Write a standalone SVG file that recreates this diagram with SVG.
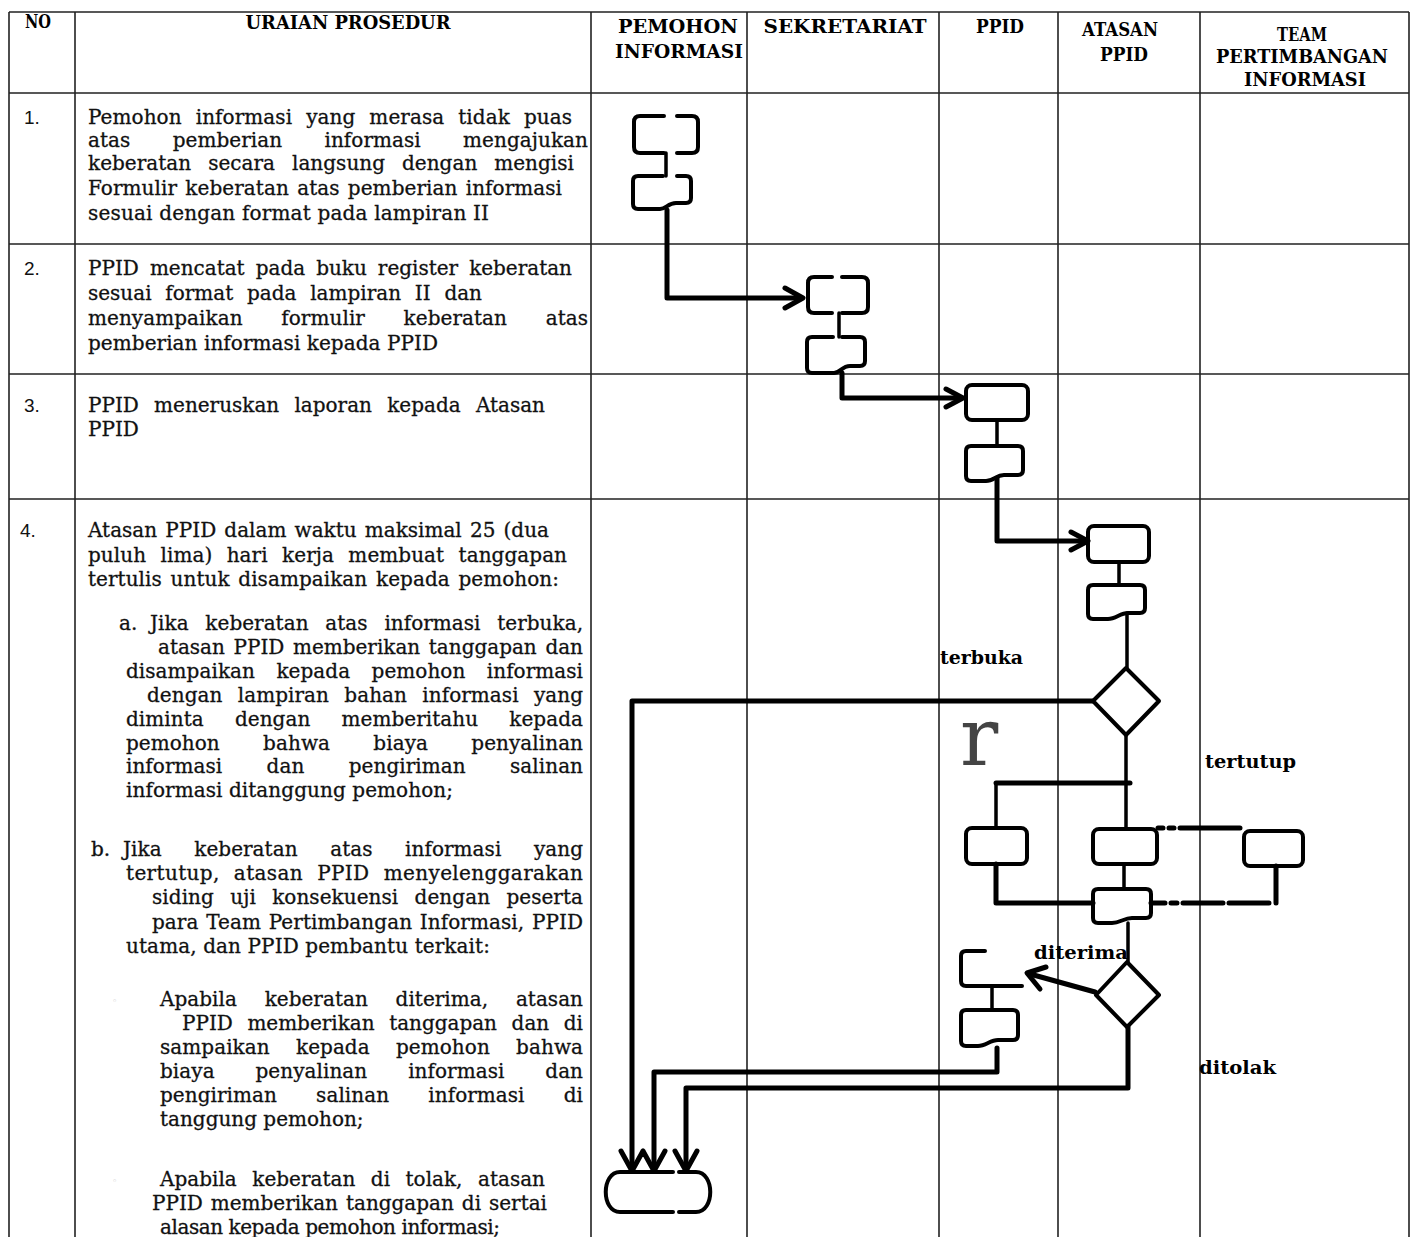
<svg xmlns="http://www.w3.org/2000/svg" width="1414" height="1237" viewBox="0 0 1414 1237">
<style>
.grid{stroke:#222;stroke-width:1.6;fill:none}
.box{fill:none;stroke:#000;stroke-width:4;stroke-linejoin:round;stroke-linecap:round}
.conn{fill:none;stroke:#000;stroke-width:3.5;stroke-linecap:round}
.flow{fill:none;stroke:#000;stroke-width:5;stroke-linejoin:round;stroke-linecap:round}
.head{fill:none;stroke:#000;stroke-width:5;stroke-linejoin:round;stroke-linecap:round}
.hdr{font-family:"DejaVu Serif","Liberation Serif",serif;font-weight:bold;font-size:18px;fill:#000;text-anchor:middle}
.t{font-family:"DejaVu Serif","Liberation Serif",serif;font-size:20px;fill:#111;stroke:#111;stroke-width:0.3}
.num{font-family:"Liberation Sans",Arial,sans-serif;font-size:19px;fill:#111}
.lbl{font-family:"DejaVu Serif","Liberation Serif",serif;font-weight:bold;font-size:18px;fill:#000}
</style>
<rect width="1414" height="1237" fill="#fff"/>
<g id="table">
<path class="grid" d="M9,12 H1409 M9,93 H1409 M9,244 H1409 M9,374 H1409 M9,499 H1409"/>
<path class="grid" d="M9,12 V1237 M75,12 V1237 M591,12 V1237 M747,12 V1237 M939,12 V1237 M1058,12 V1237 M1200,12 V1237 M1409,12 V1237"/>
</g>
<g id="header">
<text class="hdr" x="38" y="28" textLength="26" lengthAdjust="spacingAndGlyphs">NO</text>
<text class="hdr" x="348" y="29" textLength="205" lengthAdjust="spacingAndGlyphs">URAIAN PROSEDUR</text>
<text class="hdr" x="678" y="33" textLength="120" lengthAdjust="spacingAndGlyphs">PEMOHON</text>
<text class="hdr" x="679" y="58" textLength="128" lengthAdjust="spacingAndGlyphs">INFORMASI</text>
<text class="hdr" x="845" y="33" textLength="163" lengthAdjust="spacingAndGlyphs">SEKRETARIAT</text>
<text class="hdr" x="1000" y="33" textLength="48" lengthAdjust="spacingAndGlyphs">PPID</text>
<text class="hdr" x="1120" y="36" textLength="76" lengthAdjust="spacingAndGlyphs">ATASAN</text>
<text class="hdr" x="1124" y="61" textLength="48" lengthAdjust="spacingAndGlyphs">PPID</text>
<text class="hdr" x="1302" y="41" textLength="50" lengthAdjust="spacingAndGlyphs">TEAM</text>
<text class="hdr" x="1302" y="63" textLength="172" lengthAdjust="spacingAndGlyphs">PERTIMBANGAN</text>
<text class="hdr" x="1305" y="86" textLength="122" lengthAdjust="spacingAndGlyphs">INFORMASI</text>
</g>
<g id="row1-text">
<text class="num" x="24" y="124">1.</text>
<text class="t" x="88" y="124" word-spacing="7.6" textLength="484" lengthAdjust="spacing">Pemohon informasi yang merasa tidak puas</text>
<text class="t" x="88" y="147" word-spacing="35.8" textLength="500" lengthAdjust="spacing">atas pemberian informasi mengajukan</text>
<text class="t" x="88" y="170" word-spacing="10.5" textLength="486" lengthAdjust="spacing">keberatan secara langsung dengan mengisi</text>
<text class="t" x="88" y="195" word-spacing="1.9" textLength="474" lengthAdjust="spacing">Formulir keberatan atas pemberian informasi</text>
<text class="t" x="88" y="220" textLength="401" lengthAdjust="spacing">sesuai dengan format pada lampiran II</text>
</g>
<g id="row2-text">
<text class="num" x="24" y="275">2.</text>
<text class="t" x="88" y="275" word-spacing="4.7" textLength="484" lengthAdjust="spacing">PPID mencatat pada buku register keberatan</text>
<text class="t" x="88" y="300" word-spacing="7.4" textLength="394" lengthAdjust="spacing">sesuai format pada lampiran II dan</text>
<text class="t" x="88" y="325" word-spacing="32.2" textLength="500" lengthAdjust="spacing">menyampaikan formulir keberatan atas</text>
<text class="t" x="88" y="350" textLength="350" lengthAdjust="spacing">pemberian informasi kepada PPID</text>
</g>
<g id="row3-text">
<text class="num" x="24" y="412">3.</text>
<text class="t" x="88" y="412" word-spacing="8.9" textLength="457" lengthAdjust="spacing">PPID meneruskan laporan kepada Atasan</text>
<text class="t" x="88" y="436">PPID</text>
</g>
<g id="row4-text">
<text class="num" x="20" y="537">4.</text>
<text class="t" x="88" y="537" word-spacing="1.8" textLength="461" lengthAdjust="spacing">Atasan PPID dalam waktu maksimal 25 (dua</text>
<text class="t" x="88" y="562" word-spacing="8" textLength="479" lengthAdjust="spacing">puluh lima) hari kerja membuat tanggapan</text>
<text class="t" x="88" y="586" word-spacing="2.3" textLength="471" lengthAdjust="spacing">tertulis untuk disampaikan kepada pemohon:</text>
<text class="t" x="119" y="630">a.</text>
<text class="t" x="150" y="630" word-spacing="10.4" textLength="433" lengthAdjust="spacing">Jika keberatan atas informasi terbuka,</text>
<text class="t" x="158" y="654" word-spacing="2.3" textLength="425" lengthAdjust="spacing">atasan PPID memberikan tanggapan dan</text>
<text class="t" x="126" y="678" word-spacing="15" textLength="457" lengthAdjust="spacing">disampaikan kepada pemohon informasi</text>
<text class="t" x="147" y="702" word-spacing="8.9" textLength="436" lengthAdjust="spacing">dengan lampiran bahan informasi yang</text>
<text class="t" x="126" y="726" word-spacing="24.7" textLength="457" lengthAdjust="spacing">diminta dengan memberitahu kepada</text>
<text class="t" x="126" y="750" word-spacing="36.9" textLength="457" lengthAdjust="spacing">pemohon bahwa biaya penyalinan</text>
<text class="t" x="126" y="773" word-spacing="38" textLength="457" lengthAdjust="spacing">informasi dan pengiriman salinan</text>
<text class="t" x="126" y="797" textLength="327" lengthAdjust="spacing">informasi ditanggung pemohon;</text>
<text class="t" x="91" y="856">b.</text>
<text class="t" x="123" y="856" word-spacing="26.2" textLength="460" lengthAdjust="spacing">Jika keberatan atas informasi yang</text>
<text class="t" x="126" y="880" word-spacing="7.5" textLength="457" lengthAdjust="spacing">tertutup, atasan PPID menyelenggarakan</text>
<text class="t" x="152" y="904" word-spacing="9.9" textLength="431" lengthAdjust="spacing">siding uji konsekuensi dengan peserta</text>
<text class="t" x="152" y="929" word-spacing="1.3" textLength="431" lengthAdjust="spacing">para Team Pertimbangan Informasi, PPID</text>
<text class="t" x="126" y="953" textLength="364" lengthAdjust="spacing">utama, dan PPID pembantu terkait:</text>
<text x="112" y="1004" font-family="DejaVu Sans,sans-serif" font-size="9" fill="#bbb">◦</text>
<text class="t" x="160" y="1006" word-spacing="21.4" textLength="423" lengthAdjust="spacing">Apabila keberatan diterima, atasan</text>
<text class="t" x="182" y="1030" word-spacing="8.3" textLength="401" lengthAdjust="spacing">PPID memberikan tanggapan dan di</text>
<text class="t" x="160" y="1054" word-spacing="19.9" textLength="423" lengthAdjust="spacing">sampaikan kepada pemohon bahwa</text>
<text class="t" x="160" y="1078" word-spacing="34.5" textLength="423" lengthAdjust="spacing">biaya penyalinan informasi dan</text>
<text class="t" x="160" y="1102" word-spacing="32.8" textLength="423" lengthAdjust="spacing">pengiriman salinan informasi di</text>
<text class="t" x="160" y="1126">tanggung pemohon;</text>
<text x="112" y="1184" font-family="DejaVu Sans,sans-serif" font-size="9" fill="#bbb">◦</text>
<text class="t" x="160" y="1186" word-spacing="9.1" textLength="385" lengthAdjust="spacing">Apabila keberatan di tolak, atasan</text>
<text class="t" x="152" y="1210" word-spacing="1.7" textLength="395" lengthAdjust="spacing">PPID memberikan tanggapan di sertai</text>
<text class="t" x="160" y="1234" textLength="340" lengthAdjust="spacing">alasan kepada pemohon informasi;</text>
</g>
<g id="connectors">
<path class="conn" d="M666,153 V176 M839,313 V337 M997,420 V446 M1119,562 V585 M1127,613 V668 M1126,735 V783 M996,783 V828 M1126,783 V829 M1124,864 V889 M1128,923 V962 M992,986 V1010"/>
<path class="flow" d="M667,210 V298 H800"/>
<path class="head" d="M785,288 L803,298 L785,308"/>
<path class="flow" d="M842,373 V398 H960"/>
<path class="head" d="M946,389 L963,398 L946,407"/>
<path class="flow" d="M997,478 V541 H1085"/>
<path class="head" d="M1071,532 L1088,541 L1071,550"/>
<path class="flow" d="M1093,701 H632 V1168"/>
<path class="flow" d="M996,783 H1130"/>
<path class="flow" d="M1158,828 H1240" stroke-dasharray="5 6 5 6 60" stroke-linecap="butt"/>
<path class="flow" d="M996,864 V903 H1093"/>
<path class="flow" d="M1151,903 H1276" stroke-dasharray="14 6 6 6 40 6 40" stroke-linecap="butt"/>
<path class="flow" d="M1276,903 V866"/>
<path class="flow" d="M1095,992 L1030,974"/>
<path class="head" d="M1040,989 L1027,973 L1046,967"/>
<path class="flow" d="M997,1048 V1072 H654 V1168"/>
<path class="flow" d="M1128,1027 V1088 H686 V1168"/>
<path class="head" d="M621,1151 L632,1171 L643,1151 M643,1151 L654,1171 L665,1151 M675,1151 L686,1171 L697,1151"/>
</g>
<g id="node-pemohon-start">
<path class="box" d="M664,116 H640 Q634,116 634,122 V147 Q634,153 640,153 H664 M677,116 H692 Q698,116 698,122 V147 Q698,153 692,153 H677"/>
</g>
<g id="node-pemohon-doc">
<path class="box" d="M663,176 H638 Q633,176 633,181 V204 Q633,209 638,209 H660 C666,209 668,203 676,203 H686 Q691,203 691,198 V181 Q691,176 686,176 H677"/>
</g>
<g id="node-sekretariat-process">
<path class="box" d="M832,277 H814 Q808,277 808,283 V307 Q808,313 814,313 H832 M842,277 H862 Q868,277 868,283 V307 Q868,313 862,313 H842"/>
</g>
<g id="node-sekretariat-doc">
<path class="box" d="M833,337 H812 Q807,337 807,342 V368 Q807,373 812,373 H834 C840,373 842,366 850,366 H860 Q865,366 865,361 V342 Q865,337 860,337 H842"/>
</g>
<g id="node-ppid-process">
<rect class="box" x="966" y="385" width="62" height="35" rx="6"/>
</g>
<g id="node-ppid-doc">
<path class="box" d="M971,446 H1018 Q1023,446 1023,451 V470 Q1023,475 1018,475 H1004 C996,475 994,481 986,481 H971 Q966,481 966,476 V451 Q966,446 971,446 Z"/>
</g>
<g id="node-atasan-process">
<rect class="box" x="1088" y="526" width="61" height="36" rx="6"/>
</g>
<g id="node-atasan-doc">
<path class="box" d="M1093,585 H1140 Q1145,585 1145,590 V608 Q1145,613 1140,613 H1128 C1120,613 1116,619 1108,619 H1093 Q1088,619 1088,614 V590 Q1088,585 1093,585 Z"/>
</g>
<g id="node-decision-1">
<polygon class="box" points="1126,668 1159,701 1126,735 1093,701"/>
</g>
<g id="node-ppid-sidang">
<rect class="box" x="966" y="828" width="61" height="36" rx="6"/>
</g>
<g id="node-atasan-sidang">
<rect class="box" x="1093" y="829" width="64" height="35" rx="6"/>
</g>
<g id="node-team-sidang">
<rect class="box" x="1244" y="831" width="59" height="35" rx="6"/>
</g>
<g id="node-atasan-hasil">
<path class="box" d="M1098,889 H1146 Q1151,889 1151,894 V913 Q1151,918 1146,918 H1132 C1124,918 1120,923 1112,923 H1098 Q1093,923 1093,918 V894 Q1093,889 1098,889 Z"/>
</g>
<g id="node-decision-2">
<polygon class="box" points="1127,962 1159,995 1127,1027 1096,995"/>
</g>
<g id="node-ppid-diterima">
<path class="box" d="M985,951 H966 Q961,951 961,956 V981 Q961,986 966,986 H1022"/>
</g>
<g id="node-ppid-diterima-doc">
<path class="box" d="M966,1010 H1013 Q1018,1010 1018,1015 V1035 Q1018,1040 1013,1040 H998 C990,1040 986,1046 978,1046 H966 Q961,1046 961,1041 V1015 Q961,1010 966,1010 Z"/>
</g>
<g id="node-end">
<path class="box" d="M673,1172 H620 C601,1172 601,1212 620,1212 H673 M679,1172 H696 C715,1172 715,1212 696,1212 H679"/>
</g>
<g id="labels">
<text class="lbl" x="940" y="664" textLength="83" lengthAdjust="spacingAndGlyphs">terbuka</text>
<text class="lbl" x="1205" y="768" textLength="91" lengthAdjust="spacingAndGlyphs">tertutup</text>
<text class="lbl" x="1034" y="959" textLength="94" lengthAdjust="spacingAndGlyphs">diterima</text>
<text class="lbl" x="1199" y="1074" textLength="77" lengthAdjust="spacingAndGlyphs">ditolak</text>
<text x="960" y="765" font-family="DejaVu Serif,Liberation Serif,serif" font-size="80" fill="#444">r</text>
</g>
</svg>
